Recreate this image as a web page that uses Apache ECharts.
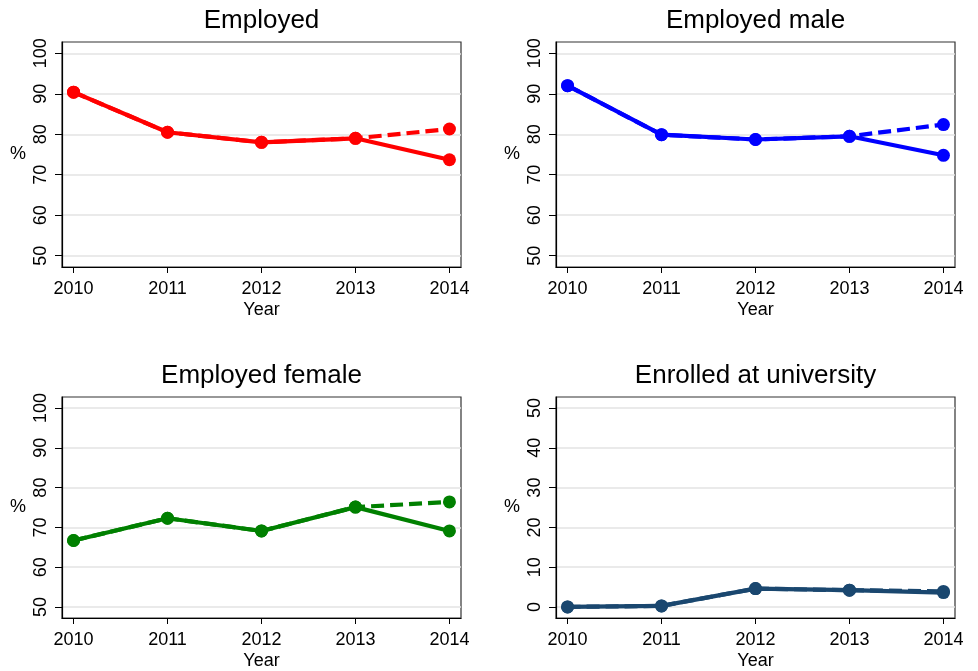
<!DOCTYPE html>
<html>
<head>
<meta charset="utf-8">
<script src="https://cdn.jsdelivr.net/npm/echarts@6/dist/echarts.min.js"></script>
<style>
  html, body { margin: 0; padding: 0; background: #fff; }
  #chart { width: 978px; height: 671px; }
</style>
</head>
<body>
<div id="chart"></div>
<script>
// Survey outcomes by year (percent)
const years = [2010, 2011, 2012, 2013, 2014];

const employed       = [90.4, 80.5, 78.0, 79.0, 73.7];
const employedAlt    = [90.4, 80.5, 78.0, 79.0, 81.3];
const employedMale   = [92.0, 79.9, 78.7, 79.5, 74.8];
const employedMaleAlt= [92.0, 79.9, 78.7, 79.5, 82.4];
const employedFemale = [66.7, 72.3, 69.1, 75.1, 69.1];
const employedFemaleAlt = [66.7, 72.3, 69.1, 75.1, 76.4];
const enrolled       = [0.0, 0.25, 4.6, 4.2, 3.6];
const enrolledAlt    = [0.0, 0.25, 4.6, 4.2, 3.9];

const panelTitles = ['Employed', 'Employed male', 'Employed female', 'Enrolled at university'];
const yTicksEmployment = [50, 60, 70, 80, 90, 100];
const yTicksEnrolment  = [0, 10, 20, 30, 40, 50];

const panels = [
  { title: panelTitles[0], solid: employed,       dashed: employedAlt,       color: '#ff0000', ticks: yTicksEmployment },
  { title: panelTitles[1], solid: employedMale,   dashed: employedMaleAlt,   color: '#0000ff', ticks: yTicksEmployment },
  { title: panelTitles[2], solid: employedFemale, dashed: employedFemaleAlt, color: '#008000', ticks: yTicksEmployment },
  { title: panelTitles[3], solid: enrolled,       dashed: enrolledAlt,       color: '#1a476f', ticks: yTicksEnrolment }
];

// plot frame geometry (px)
const frames = [
  { left: 62,  top: 42 },
  { left: 556, top: 42 },
  { left: 62,  top: 397 },
  { left: 556, top: 397 }
];
const FW = 399, FH = 225;
const FONT = '"Liberation Sans", Arial, sans-serif';

const grid = [], xAxis = [], yAxis = [], series = [], title = [];

panels.forEach((p, i) => {
  const f = frames[i];
  grid.push({
    left: f.left, top: f.top, width: FW, height: FH,
    show: true, borderColor: '#333', borderWidth: 1.2, backgroundColor: 'transparent',
    containLabel: false
  });
  title.push({
    text: p.title,
    left: f.left + FW / 2, top: f.top - 34,
    textAlign: 'center', padding: 0,
    textStyle: { fontFamily: FONT, fontSize: 26, fontWeight: 'normal', color: '#000' }
  });
  const lo = p.ticks[0], hi = p.ticks[p.ticks.length - 1];
  const pad = (hi - lo) * 0.0558;
  xAxis.push({
    gridIndex: i, type: 'value',
    min: 2010 - 0.123, max: 2014 + 0.123,
    name: 'Year', nameLocation: 'middle', nameGap: 34,
    nameTextStyle: { fontFamily: FONT, fontSize: 18, color: '#000' },
    axisLine: { show: true, onZero: false, lineStyle: { color: '#000', width: 1.2 } },
    axisTick: { show: true, length: 6, customValues: years, lineStyle: { color: '#000', width: 1 } },
    axisLabel: { customValues: years, margin: 13, fontFamily: FONT, fontSize: 18, color: '#000', formatter: v => String(v) },
    splitLine: { show: false }
  });
  yAxis.push({
    gridIndex: i, type: 'value',
    min: lo - pad, max: hi + pad,
    name: '%', nameLocation: 'middle', nameRotate: 0, nameGap: 36,
    nameTextStyle: { fontFamily: FONT, fontSize: 18, color: '#000' },
    axisLine: { show: true, onZero: false, lineStyle: { color: '#000', width: 1.2 } },
    axisTick: { show: true, length: 7, customValues: p.ticks, lineStyle: { color: '#000', width: 1 } },
    axisLabel: { customValues: p.ticks, rotate: 90, margin: 12, fontFamily: FONT, fontSize: 18, color: '#000' },
    splitLine: { show: true, lineStyle: { color: '#e3e3e3', width: 1.5 } }
  });
  series.push({
    type: 'line', xAxisIndex: i, yAxisIndex: i,
    data: years.map((y, k) => [y, p.dashed[k]]),
    symbol: 'circle', symbolSize: 13,
    lineStyle: { color: p.color, width: 4.2, type: [13, 6] },
    itemStyle: { color: p.color },
    z: 2
  });
  series.push({
    type: 'line', xAxisIndex: i, yAxisIndex: i,
    data: years.map((y, k) => [y, p.solid[k]]),
    symbol: 'circle', symbolSize: 13,
    lineStyle: { color: p.color, width: 4.2 },
    itemStyle: { color: p.color },
    z: 3
  });
});

const chart = echarts.init(document.getElementById('chart'), null, { renderer: 'canvas' });
chart.setOption({
  animation: false,
  backgroundColor: '#fff',
  title, grid, xAxis, yAxis, series
});
</script>
</body>
</html>
